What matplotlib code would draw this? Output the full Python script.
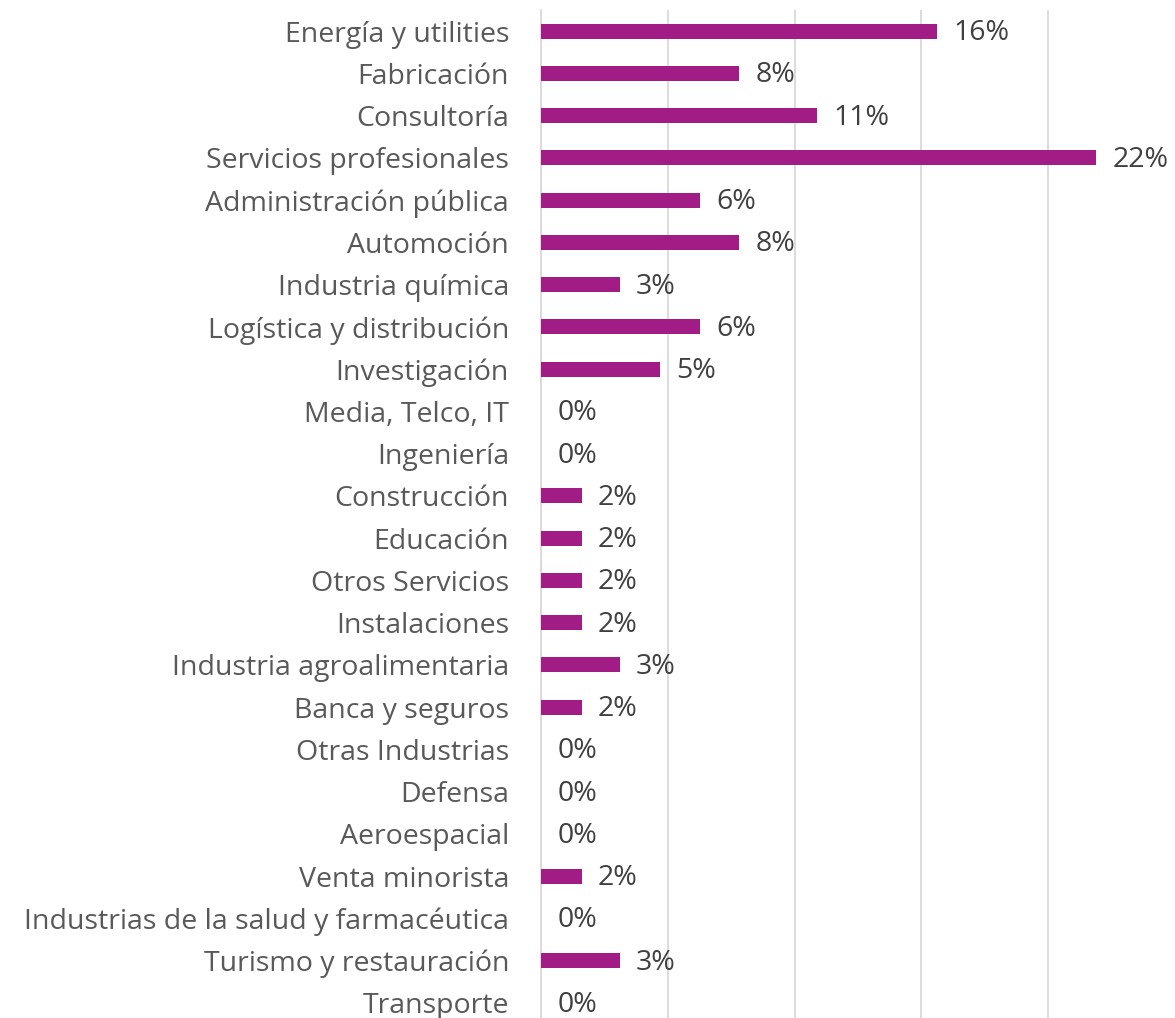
import matplotlib
matplotlib.use("Agg")
import matplotlib.pyplot as plt

categories = [
    "Energía y utilities",
    "Fabricación",
    "Consultoría",
    "Servicios profesionales",
    "Administración pública",
    "Automoción",
    "Industria química",
    "Logística y distribución",
    "Investigación",
    "Media, Telco, IT",
    "Ingeniería",
    "Construcción",
    "Educación",
    "Otros Servicios",
    "Instalaciones",
    "Industria agroalimentaria",
    "Banca y seguros",
    "Otras Industrias",
    "Defensa",
    "Aeroespacial",
    "Venta minorista",
    "Industrias de la salud y farmacéutica",
    "Turismo y restauración",
    "Transporte",
]
values = [15.6, 7.8, 10.9, 21.9, 6.25, 7.8, 3.1, 6.25, 4.7, 0, 0, 1.6, 1.6, 1.6,
          1.6, 3.1, 1.6, 0, 0, 0, 1.6, 0, 3.1, 0]

plt.rcParams["font.family"] = ["Open Sans", "DejaVu Sans"]

fig = plt.figure(figsize=(11.75, 10.18), dpi=100)
ax = fig.add_axes([541 / 1175, -6 / 1018, 1 - 541 / 1175, 1014 / 1018])

y = range(len(categories))
ax.barh(y, values, height=0.36, color="#A21C85", zorder=3)
for i, v in enumerate(values):
    ax.text(v + 0.65, i + 0.05, f"{v:.0f}%", va="center", ha="left",
            fontsize=20.5, color="#404040")

ax.set_xlim(0, 25)
ax.set_ylim(len(categories) - 0.5, -0.5)
ax.set_xticks([0, 5, 10, 15, 20])
ax.grid(axis="x", color="#D9D9D9", linewidth=1.3, zorder=0)
ax.set_yticks(list(y))
ax.set_yticklabels(categories, fontsize=20.5, color="#595959")
ax.tick_params(axis="y", length=0, pad=23)
ax.tick_params(axis="x", length=0, labelbottom=False)
for s in ["top", "right", "bottom"]:
    ax.spines[s].set_visible(False)
ax.spines["left"].set_color("#D9D9D9")
ax.spines["left"].set_linewidth(1.3)

fig.savefig("out.png", dpi=100)
